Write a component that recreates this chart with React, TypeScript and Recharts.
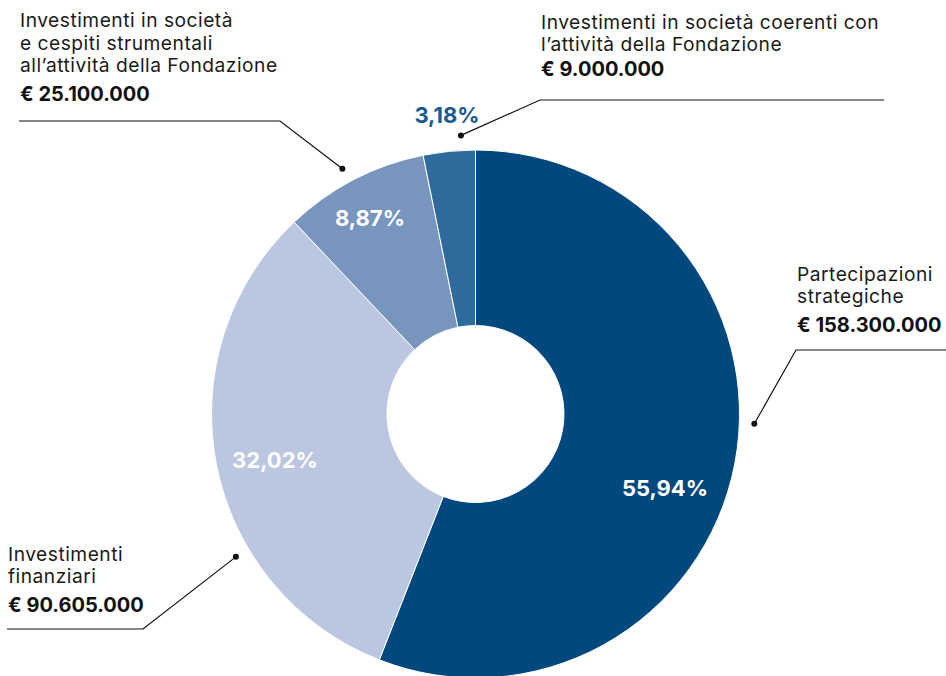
import React from 'react';
import { PieChart, Pie, Cell } from 'recharts';

// slices clockwise from 12 o'clock
const categories = [
  ['Partecipazioni', 'strategiche'],
  ['Investimenti', 'finanziari'],
  ['Investimenti in società', 'e cespiti strumentali', 'all’attività della Fondazione'],
  ['Investimenti in società coerenti con', 'l’attività della Fondazione'],
];
const amounts = [158300000, 90605000, 25100000, 9000000];
const amountLabels = ['€ 158.300.000', '€ 90.605.000', '€ 25.100.000', '€ 9.000.000'];

const colors = ['#00487d', '#bbc7e0', '#7895bd', '#2f6a9c'];

const total = amounts.reduce((s, v) => s + v, 0);
const data = amounts.map((value, i) => ({
  name: categories[i].join(' '),
  value,
  pct: ((value / total) * 100).toFixed(2).replace('.', ',') + '%',
}));

// annotation layout (screen positions for the callouts)
const layout = [
  { textX: 797, lines: [281, 303], amountY: 332, dotAngle: -2, elbow: [796, 350], end: [946, 350], pct: [665, 496], pctColor: '#fff' },
  { textX: 8, lines: [561, 583], amountY: 612, dotAngle: -149.2, elbow: [143, 629], end: [7, 629], pct: [275, 468], pctColor: '#fff' },
  { textX: 20, lines: [27, 50, 72], amountY: 101, dotAngle: 118.5, elbow: [280, 121], end: [19, 121], pct: [370, 226], pctColor: '#fff' },
  { textX: 541, lines: [28.5, 51], amountY: 75.5, dotAngle: 93, elbow: [540, 100], end: [884, 100], pct: [447, 123], pctColor: '#1d5a91' },
];

const FONT = 'Inter, "Noto Sans", sans-serif';
const RAD = Math.PI / 180;

const renderLabel = (props: any) => {
  const { cx, cy, outerRadius, index } = props;
  const l = layout[index];
  const r = outerRadius + 15;
  const dx = cx + r * Math.cos(l.dotAngle * RAD);
  const dy = cy - r * Math.sin(l.dotAngle * RAD);
  return (
    <g key={`lbl-${index}`}>
      <text
        x={l.pct[0]}
        y={l.pct[1]}
        textAnchor="middle"
        fontFamily={FONT}
        fontWeight={700}
        fontSize={22}
        fill={l.pctColor}
      >
        {data[index].pct}
      </text>
      <polyline
        points={`${dx},${dy} ${l.elbow[0]},${l.elbow[1]} ${l.end[0]},${l.end[1]}`}
        fill="none"
        stroke="#111"
        strokeWidth={1.2}
      />
      <circle cx={dx} cy={dy} r={3} fill="#111" />
      {categories[index].map((line, j) => (
        <text
          key={j}
          x={l.textX}
          y={l.lines[j]}
          fontFamily={FONT}
          fontSize={19.2}
          letterSpacing={0.5}
          fill="#1a1a1a"
        >
          {line}
        </text>
      ))}
      <text x={l.textX} y={l.amountY} fontFamily={FONT} fontSize={20} fontWeight={700} fill="#111">
        {amountLabels[index]}
      </text>
    </g>
  );
};

export default function App() {
  return (
    <div style={{ position: 'absolute', left: 0, top: 0, width: 946, height: 676, background: '#fff' }}>
      <PieChart width={946} height={676} margin={{ top: 0, right: 0, bottom: 0, left: 0 }}>
        <Pie
          data={data}
          dataKey="value"
          cx={475.5}
          cy={414}
          outerRadius={264}
          innerRadius={88.5}
          startAngle={90}
          endAngle={-270}
          stroke="#fff"
          strokeWidth={1}
          label={renderLabel}
          labelLine={false}
          isAnimationActive={false}
        >
          {data.map((d, i) => (
            <Cell key={d.name} fill={colors[i]} />
          ))}
        </Pie>
      </PieChart>
    </div>
  );
}
